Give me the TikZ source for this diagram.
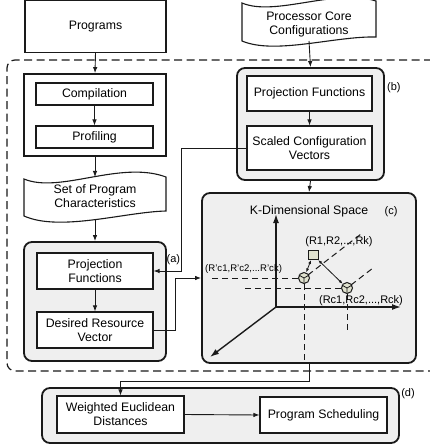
\documentclass[tikz,border=0pt]{standalone}
\usepackage{fontspec}
\setmainfont{Liberation Sans}
\usetikzlibrary{arrows.meta}
\newcommand\mainsz{\fontsize{12.3}{14}\selectfont}
\newcommand\lblsz{\fontsize{11}{12}\selectfont}
\definecolor{grpfill}{HTML}{EFEFEF}
\definecolor{ptfill}{HTML}{E0E2CF}
\definecolor{ink}{HTML}{1A1A1A}
\begin{document}
\begin{tikzpicture}[x=1pt,y=-1pt,
  box/.style={draw=ink, line width=1.1pt, fill=white, inner sep=1pt, align=center, font=\mainsz},
  grp/.style={draw=ink, line width=1.8pt, fill=grpfill, rounded corners=8pt, inner sep=0pt},
  sqgrp/.style={draw=ink, line width=1.8pt, fill=white, inner sep=0pt},
  tapebox/.style={draw=ink, line width=1.1pt, fill=white},
  txt/.style={align=center, font=\mainsz, inner sep=0pt},
  lbl/.style={font=\lblsz, inner sep=0pt},
  arr/.style={-{Latex[length=6pt,width=4.5pt]}, line width=0.9pt, draw=ink},
  ln/.style={line width=0.9pt, draw=ink},
  axis/.style={-{Latex[length=9pt,width=6pt]}, line width=1.4pt, draw=ink},
  kdash/.style={dash pattern=on 6pt off 4pt, line width=1pt, draw=ink},
  outer/.style={dash pattern=on 8pt off 4.5pt, line width=1.2pt, draw=ink, rounded corners=8pt},
  pt/.style={circle, draw=ink, line width=1pt, fill=ptfill, minimum size=11pt, inner sep=0pt},
  sq/.style={draw=ink, line width=1pt, fill=ptfill, minimum width=10pt, minimum height=9pt, inner sep=0pt},
  dblarr/.style={{Latex[length=4pt,width=3pt]}-{Latex[length=4pt,width=3pt]}, line width=0.8pt, draw=ink}
]
\useasboundingbox (0,0) rectangle (429,446);
\fill[white] (0,0) rectangle (429,446);

% outer dashed region
\draw[outer] (432,60) -- (7,60) -- (7,371) -- (432,371);

% left column
\node[box, minimum width=141pt, minimum height=52pt] (programs) at (95.5,26.5) {Programs};
\node[sqgrp, minimum width=142pt, minimum height=82pt] (compgrp) at (95,115) {};
\node[box, minimum width=117pt, minimum height=22pt] (compilation) at (94.5,94) {Compilation};
\node[box, minimum width=117pt, minimum height=22pt] (profiling) at (94.5,137) {Profiling};

\draw[tapebox] (24,179) .. controls (60,194) and (120,160) .. (166,177) -- (166,211)
  .. controls (125,212) and (60,232) .. (24,216) -- cycle;
\node[txt] (spc) at (95,196) {Set of Program\\Characteristics};
\coordinate (spctop) at (95,177);
\coordinate (spcbot) at (95,219);

\node[grp, minimum width=142pt, minimum height=119pt] (pgrp) at (95,301.5) {};
\node[box, minimum width=116pt, minimum height=36pt] (projA) at (95,271) {Projection\\Functions};
\node[box, minimum width=116pt, minimum height=36pt] (drv) at (95,330) {Desired Resource\\Vector};
\node[lbl, anchor=west] (la) at (166.5,260) {(a)};

% right column
\draw[tapebox] (242,3) .. controls (275,17) and (335,-12) .. (376,1) -- (376,37)
  .. controls (335,36) and (275,55) .. (242,41) -- cycle;
\node[txt] (pcc) at (309,24.5) {Processor Core\\Configurations};
\coordinate (pccbot) at (309,41);

\node[grp, minimum width=147pt, minimum height=112pt] (bgrp) at (310.5,124) {};
\node[box, minimum width=125pt, minimum height=35pt] (projB) at (309.5,93.5) {Projection Functions};
\node[box, minimum width=125pt, minimum height=44pt] (scv) at (309.5,148) {Scaled Configuration\\Vectors};
\node[lbl, anchor=west] (lb) at (387,88) {(b)};

% K-dimensional space
\node[grp, minimum width=214pt, minimum height=170pt] (kbox) at (309,278) {};
\node[txt] (ktitle) at (309,211) {K-Dimensional Space};
\node[lbl] (lc) at (391,211.5) {(c)};

\coordinate (O) at (276,307);
\coordinate (yend) at (276,214);
\coordinate (xend) at (401,307);
\coordinate (zend) at (210,357);
\draw[axis] (O) -- (yend);
\draw[axis] (O) -- (xend);
\draw[axis] (O) -- (zend);

\node[pt] (c1) at (304,278) {};
\node[pt] (c2) at (347,288) {};
\node[sq] (r) at (313,255) {};

\coordinate (c1left) at (209,278);
\coordinate (c1down) at (304,363);
\coordinate (c2left) at (243,288);
\coordinate (c2down) at (347,331);
\coordinate (c1diag) at (361,234);
\coordinate (c2diag) at (373,268);
\draw[kdash] (c1.west) -- (c1left);
\draw[kdash] (c1.south) -- (c1down);
\draw[kdash] (c2.west) -- (c2left);
\draw[kdash] (c2.south) -- (c2down);
\draw[kdash] (c1.center) ++(4,-3) -- (c1diag);
\draw[kdash] (c2.center) ++(4,-3) -- (c2diag);

\foreach \p in {c1,c2}{
  \draw[line width=0.8pt, draw=ink] (\p.center) -- (\p.150) (\p.center) -- (\p.30) (\p.center) -- (\p.270);
}
\draw[dblarr] (c1) -- (r);
\draw[dblarr] (c2) -- (r);

\node[lbl] (lr) at (339,241.5) {(R1,R2,...,Rk)};
\node[lbl] (lrc) at (361,300.5) {(Rc1,Rc2,...,Rck)};
\node[lbl, font=\fontsize{9.6}{12}\selectfont, anchor=west] (lrp) at (205,269) {(R'c1,R'c2,...R'ck)};

% bottom group
\node[grp, minimum width=357pt, minimum height=55pt] (dgrp) at (220.5,415.5) {};
\node[box, minimum width=127pt, minimum height=37pt] (wed) at (120.5,414.5) {Weighted Euclidean\\Distances};
\node[box, minimum width=127pt, minimum height=36pt] (ps) at (323.5,415) {Program Scheduling};
\node[lbl] (ld) at (408,393.5) {(d)};

% connectors
\draw[arr] (programs.south) -- (compgrp.north);
\draw[arr] (compilation.south) -- (profiling.north);
\draw[arr] (compgrp.south) -- (spctop);
\draw[arr] (spcbot) -- (pgrp.north);
\draw[arr] (projA.south) -- (drv.north);
\draw[arr] (pccbot) -- (bgrp.north);
\draw[arr] (projB.south) -- (scv.north);
\draw[arr] (bgrp.south) -- (kbox.north);
\draw[arr] (scv.west) -- (181,148) -- (181,271) -- (projA.east);
\draw[arr] (drv.east) -- (175,330) -- (175,278) -- (kbox.west);
\draw[arr] (kbox.south) -- ++(0,18) -| (wed.north);
\draw[arr] (wed.east) -- (ps.west);
\end{tikzpicture}
\end{document}
